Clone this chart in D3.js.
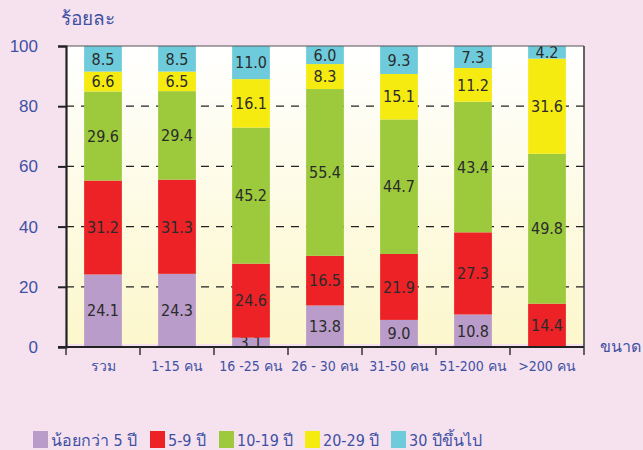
<!DOCTYPE html>
<html>
  <head>
    <style>
      body { margin: 0; background: #f6e2ef; }
      svg { display: block; font-family: "DejaVu Sans", sans-serif; font-stretch: condensed; }
      .axis-text { fill: #3f51a3; }
    </style>
    <script src="https://d3js.org/d3.v7.min.js"></script>
  </head>
  <body>
    <svg class="chart"></svg>

    <script>
      const categories = ['รวม', '1-15 คน', '16 -25 คน', '26 - 30 คน', '31-50 คน', '51-200 คน', '>200 คน'];
      const seriesNames = ['น้อยกว่า 5 ปี', '5-9 ปี', '10-19 ปี', '20-29 ปี', '30 ปีขึ้นไป'];
      const colors = ['#b99cc9', '#ec2227', '#9cca3c', '#f6eb10', '#6ecbdc'];
      const under5 = [24.1, 24.3, 3.1, 13.8, 9.0, 10.8, 0];
      const y5to9 = [31.2, 31.3, 24.6, 16.5, 21.9, 27.3, 14.4];
      const y10to19 = [29.6, 29.4, 45.2, 55.4, 44.7, 43.4, 49.8];
      const y20to29 = [6.6, 6.5, 16.1, 8.3, 15.1, 11.2, 31.6];
      const y30up = [8.5, 8.5, 11.0, 6.0, 9.3, 7.3, 4.2];
      const yTicks = [0, 20, 40, 60, 80, 100];

      const series = [under5, y5to9, y10to19, y20to29, y30up];
      const width = 643;
      const height = 450;
      const plot = { left: 66, right: 584, top: 46, bottom: 347 };

      const svg = d3.select('svg').attr('width', width).attr('height', height);

      const x = d3.scaleBand().domain(categories).range([plot.left, plot.right]).paddingInner(0.49).paddingOuter(0.245);
      const y = d3.scaleLinear().domain([0, 100]).range([plot.bottom, plot.top]);

      const grad = svg.append('defs').append('linearGradient')
        .attr('id', 'bg').attr('x1', 0).attr('y1', 0).attr('x2', 0).attr('y2', 1);
      grad.append('stop').attr('offset', '0%').attr('stop-color', '#ffffff');
      grad.append('stop').attr('offset', '100%').attr('stop-color', '#fcf7cc');

      svg.append('rect')
        .attr('x', plot.left).attr('y', plot.top)
        .attr('width', plot.right - plot.left).attr('height', plot.bottom - plot.top - 3)
        .attr('fill', 'url(#bg)');

      // dashed grid behind bars
      svg.append('g').selectAll('line')
        .data(yTicks.filter(d => d > 0 && d < 100))
        .join('line')
        .attr('x1', plot.left).attr('x2', plot.right)
        .attr('y1', d => y(d)).attr('y2', d => y(d))
        .attr('stroke', '#222').attr('stroke-width', 1.2)
        .attr('stroke-dasharray', '8,7');

      // stack
      const rows = categories.map((c, i) => {
        const r = { cat: c };
        series.forEach((s, k) => { r[k] = s[i]; });
        return r;
      });
      const stacked = d3.stack().keys(series.map((s, k) => k))(rows);

      const layers = svg.append('g').selectAll('g')
        .data(stacked)
        .join('g')
        .attr('fill', (d, k) => colors[k]);

      layers.selectAll('rect')
        .data(d => d)
        .join('rect')
        .attr('x', d => x(d.data.cat))
        .attr('width', x.bandwidth())
        .attr('y', d => y(d[1]))
        .attr('height', d => y(d[0]) - y(d[1]));

      layers.selectAll('text')
        .data(d => d.filter(p => p[1] - p[0] > 0))
        .join('text')
        .attr('x', d => x(d.data.cat) + x.bandwidth() / 2)
        .attr('y', d => (y(d[0]) + y(d[1])) / 2)
        .attr('dy', '0.36em')
        .attr('text-anchor', 'middle')
        .attr('font-size', 16)
        .attr('fill', '#2b2b2b')
        .text(d => (d[1] - d[0]).toFixed(1));

      // frame
      svg.append('line')
        .attr('x1', plot.left).attr('x2', plot.right)
        .attr('y1', plot.top).attr('y2', plot.top)
        .attr('stroke', '#555').attr('stroke-width', 1);
      svg.append('line')
        .attr('x1', plot.right).attr('x2', plot.right)
        .attr('y1', plot.top).attr('y2', plot.bottom)
        .attr('stroke', '#333').attr('stroke-width', 1.5);

      // y axis
      const yAxis = svg.append('g')
        .attr('transform', `translate(${plot.left},0)`)
        .call(d3.axisLeft(y).tickValues(yTicks).tickSize(8).tickPadding(20));
      yAxis.select('.domain').attr('stroke', '#222').attr('stroke-width', 2.2);
      yAxis.selectAll('.tick line').attr('stroke', '#222').attr('stroke-width', 2);
      yAxis.selectAll('.tick text')
        .attr('class', 'axis-text')
        .attr('font-size', 17)
        .attr('font-family', null);

      // x axis
      const xTickPos = d3.scaleLinear().domain([0, categories.length]).range([plot.left, plot.right]);
      const xAxis = svg.append('g')
        .attr('transform', `translate(0,${plot.bottom})`);
      xAxis.append('line')
        .attr('x1', plot.left - 8).attr('x2', plot.right)
        .attr('stroke', '#222').attr('stroke-width', 2.2);
      xAxis.selectAll('.xt')
        .data(d3.range(categories.length + 1))
        .join('line')
        .attr('x1', d => xTickPos(d)).attr('x2', d => xTickPos(d))
        .attr('y1', 0).attr('y2', 8)
        .attr('stroke', '#333').attr('stroke-width', 1.5);
      xAxis.selectAll('text')
        .data(categories)
        .join('text')
        .attr('class', 'axis-text')
        .attr('x', d => x(d) + x.bandwidth() / 2)
        .attr('y', 24)
        .attr('text-anchor', 'middle')
        .attr('font-size', 14)
        .text(d => d);

      svg.append('text')
        .attr('class', 'axis-text')
        .attr('x', 61).attr('y', 25)
        .attr('font-size', 19)
        .text('ร้อยละ');
      svg.append('text')
        .attr('class', 'axis-text')
        .attr('x', 600).attr('y', 352)
        .attr('font-size', 16)
        .text('ขนาด');

      // legend
      const legendX = [33, 150, 219, 305, 391];
      const legend = svg.append('g').selectAll('g')
        .data(seriesNames)
        .join('g')
        .attr('transform', (d, i) => `translate(${legendX[i]},431)`);
      legend.append('rect')
        .attr('width', 15).attr('height', 17)
        .attr('fill', (d, i) => colors[i]);
      legend.append('text')
        .attr('class', 'axis-text')
        .attr('x', 18).attr('y', 15)
        .attr('font-size', 16)
        .text(d => d);
    </script>
  </body>
</html>
